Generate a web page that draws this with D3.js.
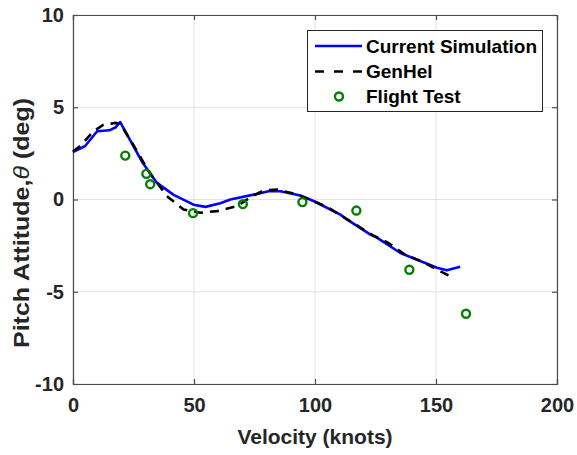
<!DOCTYPE html>
<html><head><meta charset="utf-8">
<script src="https://cdn.jsdelivr.net/npm/d3@7"></script>
<style>body{margin:0;background:#fff;} svg{display:block;font-family:"Liberation Sans",Arial,Helvetica,sans-serif;font-weight:bold;}</style>
</head><body>
<script>
// Current Simulation
const simX = [0,5,10,15,17.5,19.5,28.5,34.7,41.6,49.8,54.7,60.9,65,76,80.8,85.7,93.9,99.4,110.5,113.2,122.9,125.6,135.3,150.4,154.5,160];
const simY = [2.57,2.9,3.7,3.75,3.9,4.2,2.05,0.9,0.25,-0.28,-0.4,-0.2,0,0.3,0.45,0.45,0.22,-0.08,-0.82,-1.08,-1.9,-2.07,-2.9,-3.7,-3.84,-3.64];
// GenHel
const genX = [0,3,8.5,12.6,17.5,19.5,24.4,31.2,38.8,45.7,52.6,59.5,67.8,74,78.8,84.3,92.6,99.4,105,111.8,118,124,130.4,137.3,144.2,151.1,157.3];
const genY = [2.6,2.9,3.7,4.05,4.15,4.1,3.08,1.54,0.18,-0.54,-0.72,-0.63,-0.36,0.18,0.49,0.54,0.27,-0.09,-0.4,-0.95,-1.46,-1.95,-2.36,-3.0,-3.36,-3.84,-4.26];
// Flight Test
const ftX = [21.6,30.3,31.9,49.6,70.2,94.8,117.1,139,162.4];
const ftY = [2.38,1.39,0.83,-0.74,-0.25,-0.14,-0.6,-3.81,-6.19];
const xTicks = [0,50,100,150,200];
const yTicks = [-10,-5,0,5,10];
const legendLabels = ["Current Simulation","GenHel","Flight Test"];

const W=577,H=455;
const m={l:73,r:20,t:15,b:71};
const svg=d3.select("body").append("svg").attr("width",W).attr("height",H);
const x=d3.scaleLinear().domain([0,200]).range([m.l,W-m.r]);
const y=d3.scaleLinear().domain([-10,10]).range([H-m.b,m.t]);
const axisCol="#4d4d4d", textCol="#262626";
const fmt=d=>String(d);

// grid
const g=svg.append("g");
g.selectAll(".gx").data(xTicks).enter().append("line")
  .attr("x1",d=>x(d)).attr("x2",d=>x(d)).attr("y1",y(-10)).attr("y2",y(10))
  .attr("stroke","#e3e3e3").attr("stroke-width",1);
g.selectAll(".gy").data(yTicks).enter().append("line")
  .attr("y1",d=>y(d)).attr("y2",d=>y(d)).attr("x1",x(0)).attr("x2",x(200))
  .attr("stroke","#e3e3e3").attr("stroke-width",1);

// axes
const ax=svg.append("g").attr("transform",`translate(0,${y(-10)})`)
  .call(d3.axisBottom(x).tickValues(xTicks).tickSize(-5).tickPadding(14).tickFormat(fmt));
const ay=svg.append("g").attr("transform",`translate(${x(0)},0)`)
  .call(d3.axisLeft(y).tickValues(yTicks).tickSize(-5).tickPadding(9).tickFormat(fmt));
const axT=svg.append("g").attr("transform",`translate(0,${y(10)})`)
  .call(d3.axisTop(x).tickValues(xTicks).tickSize(-5).tickFormat(""));
const ayR=svg.append("g").attr("transform",`translate(${x(200)},0)`)
  .call(d3.axisRight(y).tickValues(yTicks).tickSize(-5).tickFormat(""));
[ax,ay,axT,ayR].forEach(a=>{
  a.select(".domain").attr("stroke",axisCol).attr("stroke-width",1.2);
  a.selectAll(".tick line").attr("stroke",axisCol).attr("stroke-width",1.2);
  a.selectAll("text").attr("fill",textCol).style("font-size","20px").style("font-weight","bold")
   .style("font-family","'Liberation Sans',Arial,sans-serif");
});

// lines
const simData=simX.map((v,i)=>[v,simY[i]]);
const genData=genX.map((v,i)=>[v,genY[i]]);
const line=d3.line().x(d=>x(d[0])).y(d=>y(d[1]));
svg.append("path").datum(simData).attr("d",line).attr("fill","none")
  .attr("stroke","#0000ff").attr("stroke-width",2.6).attr("stroke-linejoin","round");
svg.append("path").datum(genData).attr("d",line).attr("fill","none")
  .attr("stroke","#000").attr("stroke-width",2.6).attr("stroke-dasharray","9,7");
svg.selectAll(".ft").data(ftX.map((v,i)=>[v,ftY[i]])).enter().append("circle")
  .attr("cx",d=>x(d[0])).attr("cy",d=>y(d[1])).attr("r",4)
  .attr("fill","none").attr("stroke","#008000").attr("stroke-width",2.4);

// axis labels
svg.append("text").attr("x",(x(0)+x(200))/2).attr("y",444).attr("text-anchor","middle")
  .attr("fill",textCol).style("font-size","21px").text("Velocity (knots)");
const yl=svg.append("text").attr("transform",`translate(29,${223}) rotate(-90)`).attr("text-anchor","middle")
  .attr("fill",textCol).style("font-size","22px").attr("textLength",250).attr("lengthAdjust","spacingAndGlyphs");
yl.append("tspan").text("Pitch Attitude,");
yl.append("tspan").style("font-style","italic").style("font-weight","normal").text("θ");
yl.append("tspan").text(" (deg)");

// legend
const lg=svg.append("g");
lg.append("rect").attr("x",307.5).attr("y",30.5).attr("width",235).attr("height",81)
  .attr("fill","#fff").attr("stroke","#262626").attr("stroke-width",1);
const rows=[46,71.5,96.5];
lg.append("line").attr("x1",315).attr("x2",362).attr("y1",rows[0]).attr("y2",rows[0])
  .attr("stroke","#0000ff").attr("stroke-width",2.6);
lg.append("line").attr("x1",315).attr("x2",362).attr("y1",rows[1]).attr("y2",rows[1])
  .attr("stroke","#000").attr("stroke-width",2.6).attr("stroke-dasharray","9,10");
lg.append("circle").attr("cx",339).attr("cy",rows[2]).attr("r",4)
  .attr("fill","none").attr("stroke","#008000").attr("stroke-width",2.4);
lg.selectAll(".lt").data(legendLabels).enter().append("text")
  .attr("x",366).attr("y",(d,i)=>rows[i]).attr("dy","0.35em").attr("fill","#000")
  .style("font-size","19px").text(d=>d);
</script>
</body></html>
